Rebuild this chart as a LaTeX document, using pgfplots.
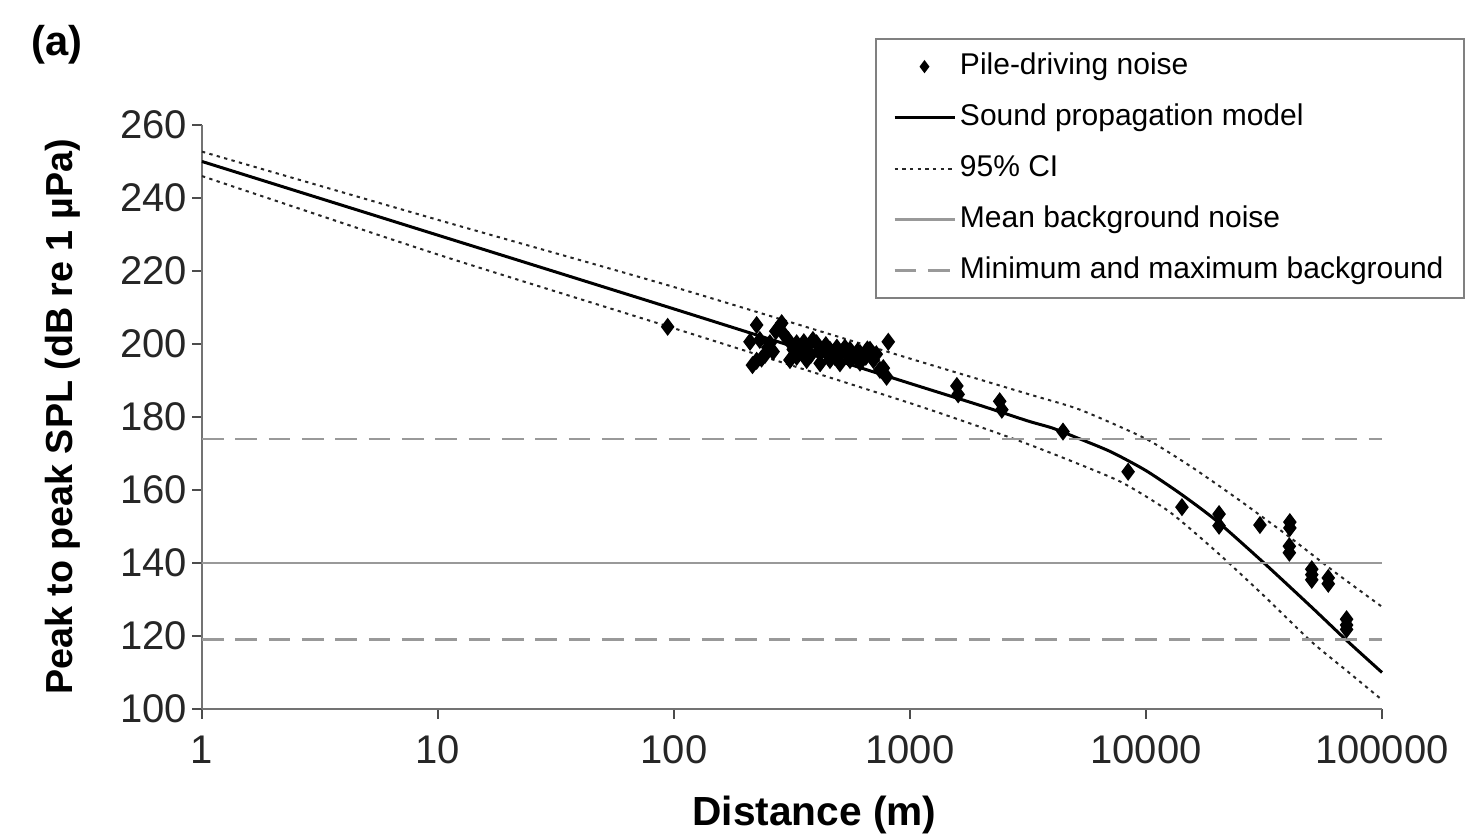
\documentclass[border=0pt]{standalone}
\usepackage{fontspec}
\setmainfont{Liberation Sans}
\usepackage{pgfplots}
\pgfplotsset{compat=1.18}
\pgfplotsset{
  lineleg/.style={legend image code/.code={\draw[##1] (0pt,0pt) -- (18pt,0pt);}},
  markleg/.style={legend image code/.code={\path[draw=none] (0pt,0pt) -- (18pt,0pt); \path[##1, draw=none, mark size=1.5pt] plot coordinates {(9pt,0pt)};}},
}

\pgfplotstableread{
d y
94 204.7
210 200.6
215 194.2
224 195.4
224 205.2
231 201.1
235 196.0
243 197.0
250 199.0
255 200.2
263 197.9
270 203.5
286 205.7
290 202.9
305 201.1
310 195.6
320 198.5
331 200.2
331 196.5
345 198.0
355 200.5
365 199.3
365 195.6
380 197.0
388 201.1
402 200.2
410 198.0
416 197.5
416 194.7
440 199.7
450 197.0
458 198.4
458 195.6
480 196.5
490 199.0
505 197.5
505 194.7
530 199.0
545 196.5
557 198.4
557 195.6
590 196.5
600 198.0
614 197.5
614 194.9
650 196.5
660 198.5
677 198.4
700 195.6
720 197.2
746 192.9
771 193.4
796 191.0
809 200.6
1580 188.5
1600 186.2
2400 184.3
2450 182.0
4450 176.0
8400 165.0
14200 155.3
20400 153.4
20400 150.2
30400 150.4
40700 151.2
40700 149.6
40500 144.6
40500 142.8
50400 138.3
50400 136.8
50400 135.4
59200 135.9
59200 134.3
70800 124.6
70800 123.0
70800 121.8
}\pilesTab

\pgfplotstableread{
d y
1 250
10 229.8
100 209.6
1000 189.2
2000 183.1
3162 178.9
4000 177.0
5012 174.5
7079 170.5
10000 165.3
14125 158.8
19953 151.5
31623 140
50119 128
70795 118.8
100000 110
}\modelTab

\pgfplotstableread{
d y
1 252.7
10 234
100 215.6
1000 196
3162 186.3
5248 182
10000 174
15849 166
25119 157
39811 147.5
63096 137.5
100000 128
}\upperTab

\pgfplotstableread{
d y
1 246
10 224.5
100 204.3
1000 183.8
2754 174
5012 167.5
7943 162
12589 154
19953 143
31623 131
50119 118.5
70795 110.5
100000 102.5
}\lowerTab

\begin{document}
\begin{tikzpicture}
\path[use as bounding box] (-60.6pt,-37.8pt) rectangle (379.2pt,212.7pt);
\begin{axis}[
  at={(0pt,0pt)}, anchor=south west,
  scale only axis, width=354pt, height=175.2pt,
  xmode=log, xmin=1, xmax=100000,
  ymin=100, ymax=260,
  xtick={1,10,100,1000,10000,100000},
  xticklabels={1,10,100,1000,10000,100000},
  xminorticks=false,
  ytick={100,120,...,260},
  axis x line*=bottom, axis y line*=left,
  axis line style={black!55, line width=0.6pt},
  tick style={black!70, line width=0.6pt},
  tick align=outside, major tick length=3pt,
  /pgf/number format/assume math mode=true,
  ticklabel style={font=\fontsize{12}{14}\selectfont, text=black!85},
  xticklabel style={yshift=-1.5pt},
  yticklabel style={xshift=2pt},
  xlabel={Distance (m)},
  ylabel={Peak to peak SPL (dB re 1 µPa)},
  every axis x label/.style={at={(axis description cs:0.519,-0.182)},anchor=center,
    font=\bfseries\fontsize{12.2}{14}\selectfont},
  every axis y label/.style={at={(axis description cs:-0.118,0.5)},anchor=center,rotate=90,
    font=\bfseries\fontsize{11.3}{14}\selectfont},
  clip=false,
  lineleg,
  legend cell align=left,
  legend style={at={(1.0705,1.149)}, anchor=north east, draw=black!50, line width=0.6pt,
    font=\fontsize{9}{11}\selectfont, inner xsep=5pt, inner ysep=1pt, row sep=0.7pt,
    nodes={inner xsep=1.2pt, inner ysep=3pt, text height=6.6pt, text depth=2pt}},
]
\addplot[only marks, mark=diamond*, mark size=2.4pt, black, markleg]
  table[x=d,y=y] {\pilesTab};
\addlegendentry{Pile-driving noise}
\addplot[black, line width=0.9pt, smooth, tension=0.4] table[x=d,y=y] {\modelTab};
\addlegendentry{Sound propagation model}
\addplot[black!85, line width=0.6pt, dash pattern=on 1pt off 1.3pt, smooth, tension=0.4] table[x=d,y=y] {\upperTab};
\addlegendentry{95\% CI}
\addplot[black!85, line width=0.6pt, dash pattern=on 1pt off 1.3pt, smooth, tension=0.4, forget plot] table[x=d,y=y] {\lowerTab};
\addplot[black!40, line width=0.8pt] coordinates {(1,140) (100000,140)};
\addlegendentry{Mean background noise}
\addplot[black!40, line width=0.8pt, dash pattern=on 6.5pt off 3.5pt] coordinates {(1,174) (100000,174)};
\addlegendentry{Minimum and maximum background}
\addplot[black!40, line width=0.8pt, dash pattern=on 6.5pt off 3.5pt, forget plot] coordinates {(1,119) (100000,119)};
\node[font=\bfseries\fontsize{12.5}{14}\selectfont] at (axis description cs:-0.123,1.137) {(a)};
\end{axis}
\end{tikzpicture}
\end{document}
